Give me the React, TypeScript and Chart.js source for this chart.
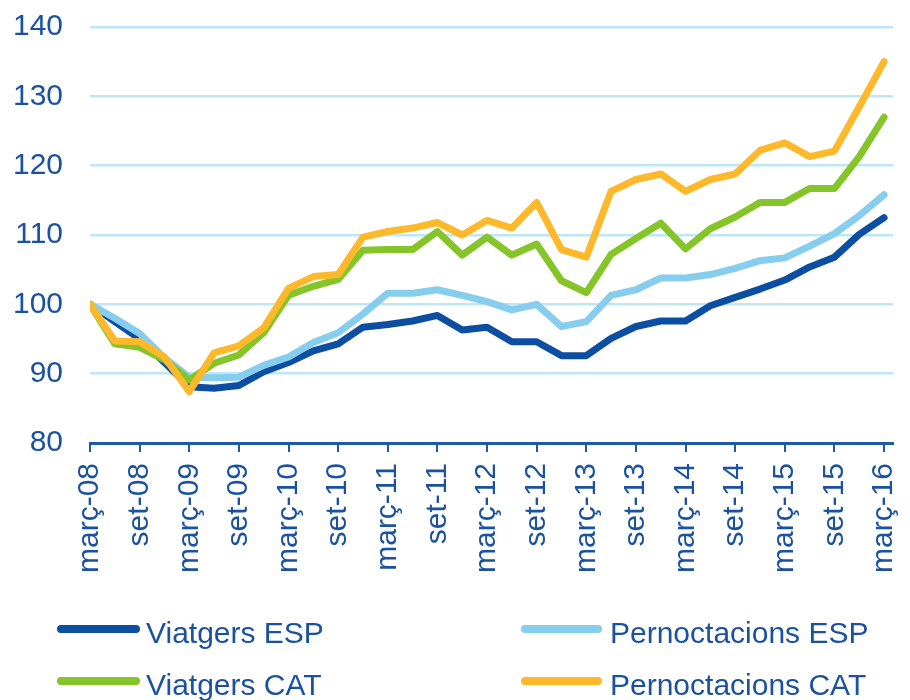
import React, { useEffect, useRef } from "react";
import { Chart, registerables } from "chart.js";

Chart.register(...registerables);

// Quarterly index (març-08 = 100), 33 quarters: març-08 … març-16
const tickLabels = [
  "març-08", "set-08", "març-09", "set-09", "març-10", "set-10", "març-11", "set-11",
  "març-12", "set-12", "març-13", "set-13", "març-14", "set-14", "març-15", "set-15", "març-16",
];

const viatgersESP = [
  100, 97.5, 95.0, 91.6, 88.1, 87.9, 88.3, 90.3, 91.6, 93.3, 94.3, 96.7, 97.1, 97.6, 98.4, 96.3, 96.7,
  94.6, 94.6, 92.6, 92.6, 95.1, 96.8, 97.6, 97.6, 99.8, 101.0, 102.2, 103.5, 105.4, 106.8, 110.1, 112.5,
];
const pernoctacionsESP = [
  100, 98.0, 95.8, 92.3, 89.5, 89.4, 89.5, 91.2, 92.4, 94.5, 95.9, 98.6, 101.6, 101.6, 102.1, 101.3, 100.4,
  99.2, 100.0, 96.8, 97.5, 101.3, 102.1, 103.8, 103.8, 104.3, 105.2, 106.3, 106.7, 108.4, 110.2, 112.8, 115.8,
];
const viatgersCAT = [
  100, 94.3, 93.8, 92.0, 89.1, 91.5, 92.7, 95.9, 101.3, 102.6, 103.6, 107.8, 107.9, 107.9, 110.5, 107.1, 109.7,
  107.1, 108.7, 103.4, 101.7, 107.2, 109.5, 111.7, 108.0, 110.9, 112.6, 114.7, 114.7, 116.7, 116.7, 121.3, 127.0,
];
const pernoctacionsCAT = [
  100, 94.7, 94.6, 92.4, 87.4, 93.0, 94.0, 96.6, 102.3, 104.0, 104.3, 109.7, 110.5, 111.0, 111.8, 110.0, 112.1,
  111.0, 114.7, 107.9, 106.8, 116.3, 118.0, 118.8, 116.3, 118.0, 118.8, 122.2, 123.3, 121.3, 122.1, 128.5, 135.0,
];

const seriesNames = ["Viatgers ESP", "Pernoctacions ESP", "Viatgers CAT", "Pernoctacions CAT"];
const seriesColors = ["#0B4EA2", "#87CEEE", "#85C52A", "#FDB92B"];
const seriesData = [viatgersESP, pernoctacionsESP, viatgersCAT, pernoctacionsCAT];
const drawOrder = [3, 2, 1, 0];

const TEXT = "#1A52A0";
const AXIS = "#1F5AA8";
const GRID = "#BDE7F7";
const FONT = "'Liberation Sans', Arial, sans-serif";

export default function App() {
  const ref = useRef<HTMLCanvasElement>(null);

  useEffect(() => {
    if (!ref.current) return;
    const chart = new Chart(ref.current, {
      type: "line",
      data: {
        datasets: seriesData.map((arr, k) => ({
          label: seriesNames[k],
          data: arr.map((v, i) => ({ x: i, y: v })),
          borderColor: seriesColors[k],
          backgroundColor: seriesColors[k],
          borderWidth: 7,
          borderJoinStyle: "round" as const,
          borderCapStyle: "round" as const,
          pointRadius: 0,
          tension: 0,
          fill: false,
          order: drawOrder[k],
        })),
      },
      options: {
        animation: false,
        responsive: false,
        devicePixelRatio: 1,
        layout: { padding: { top: 27, right: 17, left: 0, bottom: 0 } },
        plugins: { legend: { display: false }, tooltip: { enabled: false } },
        scales: {
          x: {
            type: "linear",
            min: 0,
            max: 32.36,
            afterBuildTicks: (scale: any) => {
              scale.ticks = tickLabels.map((_, j) => ({ value: j * 2 }));
            },
            afterFit: (scale: any) => {
              scale.height = 257;
              scale.paddingLeft = 0;
              scale.paddingRight = 0;
            },
            ticks: {
              stepSize: 2,
              autoSkip: false,
              minRotation: 90,
              maxRotation: 90,
              padding: 11,
              color: TEXT,
              font: { family: FONT, size: 30 },
              callback: (v: any) => tickLabels[Math.round(Number(v) / 2)] ?? "",
            },
            grid: {
              drawOnChartArea: false,
              drawTicks: true,
              tickLength: 9,
              color: AXIS,
              lineWidth: 2,
            },
            border: { display: true, color: AXIS, width: 3 },
          },
          y: {
            min: 80,
            max: 140,
            afterFit: (scale: any) => {
              scale.width = 90;
              scale.paddingTop = 0;
              scale.paddingBottom = 0;
            },
            ticks: {
              stepSize: 10,
              padding: 27,
              color: TEXT,
              font: { family: FONT, size: 30 },
            },
            grid: { drawTicks: false, color: GRID, lineWidth: 2.5 },
            border: { display: false },
          },
        },
      },
    });
    return () => chart.destroy();
  }, []);

  const legendPos = [
    { lx: 57, lw: 83, ly: 629, tx: 146, ty: 618 },
    { lx: 521, lw: 81, ly: 629, tx: 610, ty: 618 },
    { lx: 57, lw: 83, ly: 681, tx: 146, ty: 670 },
    { lx: 521, lw: 81, ly: 681, tx: 610, ty: 670 },
  ];

  return (
    <div style={{ position: "absolute", left: 0, top: 0, width: 910, height: 700, background: "#fff" }}>
      <canvas ref={ref} width={910} height={700} style={{ position: "absolute", left: 0, top: 0 }} />
      {seriesNames.map((name, k) => {
        const p = legendPos[k];
        return (
          <React.Fragment key={name}>
            <div
              style={{
                position: "absolute",
                left: p.lx,
                top: p.ly - 4,
                width: p.lw,
                height: 8,
                borderRadius: 4,
                background: seriesColors[k],
              }}
            />
            <div
              style={{
                position: "absolute",
                left: p.tx,
                top: p.ty,
                fontFamily: FONT,
                fontSize: 30,
                lineHeight: "30px",
                color: TEXT,
                whiteSpace: "nowrap",
              }}
            >
              {name}
            </div>
          </React.Fragment>
        );
      })}
    </div>
  );
}
